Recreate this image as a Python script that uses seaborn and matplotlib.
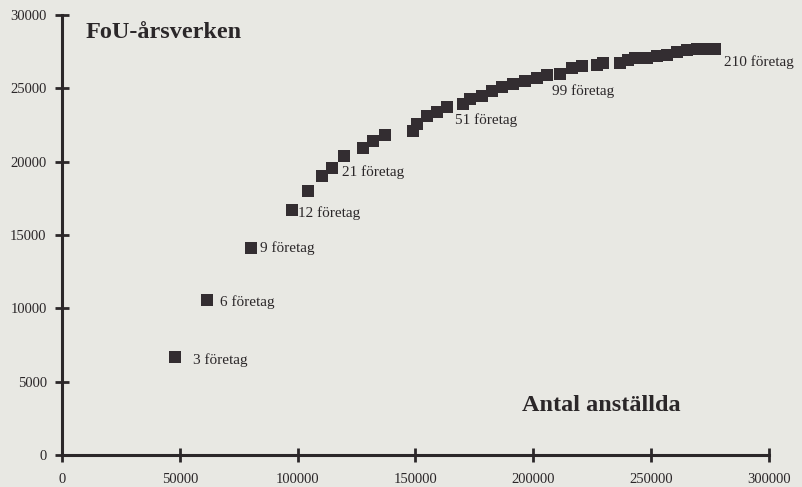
import matplotlib
matplotlib.use("Agg")
import matplotlib.pyplot as plt
import pandas as pd
import seaborn as sns

# --- Data (thousands converted below) ---
anstallda = [47.9, 61.5, 80.2, 97.4, 104.4, 110.3, 114.5, 119.6, 127.7, 132.0,
             137.0, 149.0, 150.6, 154.9, 159.1, 163.3, 170.1, 173.1, 178.2, 182.4,
             186.7, 191.3, 196.4, 201.5, 205.8, 211.3, 216.4, 220.6, 227.0, 229.5,
             236.7, 240.1, 243.1, 248.2, 252.4, 256.7, 260.9, 265.2, 269.4, 273.7,
             277.0]
arsverken = [6.7, 10.6, 14.1, 16.7, 18.0, 19.0, 19.6, 20.4, 20.9, 21.4,
             21.8, 22.1, 22.6, 23.1, 23.4, 23.7, 23.9, 24.3, 24.5, 24.8,
             25.1, 25.3, 25.5, 25.7, 25.9, 26.0, 26.4, 26.5, 26.6, 26.7,
             26.7, 26.9, 27.1, 27.1, 27.2, 27.3, 27.5, 27.6, 27.7, 27.7,
             27.7]

label_text = ["3 företag", "6 företag", "9 företag", "12 företag", "21 företag",
              "51 företag", "99 företag", "210 företag"]
label_x = [55.6, 67.0, 84.0, 100.0, 118.8, 166.7, 208.0, 281.0]
label_y = [6.5, 10.4, 14.1, 16.5, 19.3, 22.8, 24.8, 26.8]

X_TICKS = [0, 50000, 100000, 150000, 200000, 250000, 300000]
Y_TICKS = [0, 5000, 10000, 15000, 20000, 25000, 30000]

BG = "#e8e8e3"
INK = "#2b2729"
SERIF = ["Liberation Serif", "DejaVu Serif"]


def main():
    df = pd.DataFrame({
        "anstallda": [v * 1000 for v in anstallda],
        "arsverken": [v * 1000 for v in arsverken],
    })

    sns.set_style("white")
    plt.rcParams["font.family"] = SERIF

    fig = plt.figure(figsize=(8.02, 4.87), dpi=100, facecolor=BG)
    ax = fig.add_axes([0.0773, 0.0657, 0.8815, 0.9035])
    ax.set_facecolor(BG)

    sns.scatterplot(data=df, x="anstallda", y="arsverken", marker="s", s=70,
                    color="#332d31", linewidth=0, ax=ax, clip_on=False)

    for txt, lx, ly in zip(label_text, label_x, label_y):
        ax.text(lx * 1000, ly * 1000, txt, ha="left", va="center",
                fontsize=11, color=INK)

    ax.text(9800, 28800, "FoU-årsverken", ha="left", va="center",
            fontsize=17.5, fontweight="bold", color=INK)
    ax.text(195200, 3400, "Antal anställda", ha="left", va="center",
            fontsize=17.5, fontweight="bold", color=INK)

    ax.set_xlim(0, 300000)
    ax.set_ylim(0, 30000)
    ax.set_xticks(X_TICKS)
    ax.set_yticks(Y_TICKS)
    ax.set_xticklabels([str(t) for t in X_TICKS])
    ax.set_yticklabels([str(t) for t in Y_TICKS])
    ax.set_xlabel("")
    ax.set_ylabel("")

    for side in ["top", "right"]:
        ax.spines[side].set_visible(False)
    for side in ["left", "bottom"]:
        ax.spines[side].set_color(INK)
        ax.spines[side].set_linewidth(2.2)

    # seaborn's "white" style hides ticks, so switch them back on
    ax.tick_params(axis="both", bottom=True, left=True, direction="inout",
                   length=10, width=2, color=INK, labelsize=10.5,
                   labelcolor=INK)
    ax.tick_params(axis="x", pad=8)
    ax.tick_params(axis="y", pad=6)

    fig.savefig("out.png", dpi=100, facecolor=BG)
    plt.close(fig)


if __name__ == "__main__":
    main()
